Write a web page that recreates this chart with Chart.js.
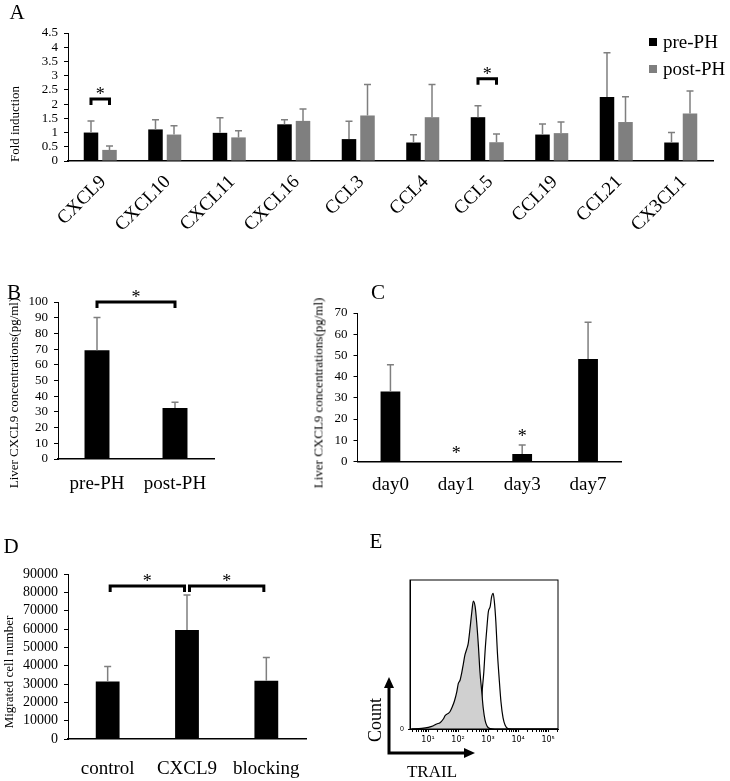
<!DOCTYPE html>
<html>
<head>
<meta charset="utf-8">
<script src="https://cdn.jsdelivr.net/npm/chart.js@4.4.1/dist/chart.umd.min.js"></script>
<style>
body{margin:0;background:#fff}
#fig{position:relative;width:730px;height:781px;background:#fff;font-family:'Liberation Serif','Times New Roman',serif;color:#000;overflow:hidden}
#fig canvas{position:absolute}
.txt{position:absolute;white-space:nowrap;line-height:1;transform:translate(-50%,-50%)}
.vert{transform:translate(-50%,-50%) rotate(-90deg)}
.letter{font-size:21px}
.ytitle{font-size:13px}
#legendA{position:absolute;left:649px;top:28px;font-size:19px;line-height:27px}
#legendA span.box{display:inline-block;width:8px;height:8px;margin-right:6px;vertical-align:middle;position:relative;top:-2px}
</style>
</head>
<body>
<div id="fig">
  <canvas id="chartA" width="730" height="245" style="left:0;top:0"></canvas>
  <canvas id="chartB" width="240" height="215" style="left:0;top:280px"></canvas>
  <canvas id="chartC" width="315" height="215" style="left:325px;top:280px"></canvas>
  <canvas id="chartD" width="330" height="226" style="left:0;top:555px"></canvas>
  <canvas id="chartE" width="205" height="221" style="left:365px;top:560px"></canvas>

  <div class="txt letter" style="left:17px;top:12px">A</div>
  <div class="txt letter" style="left:14px;top:292px">B</div>
  <div class="txt letter" style="left:378px;top:292px">C</div>
  <div class="txt letter" style="left:11px;top:546px">D</div>
  <div class="txt letter" style="left:376px;top:541px">E</div>

  <div class="txt vert ytitle" style="left:14px;top:124px">Fold induction</div>
  <div class="txt vert ytitle" style="left:13px;top:393px">Liver CXCL9 concentrations(pg/ml)</div>
  <div class="txt vert ytitle" style="left:318px;top:393px">Liver CXCL9 concentrations(pg/ml)</div>
  <div class="txt vert ytitle" style="left:8px;top:672px">Migrated cell number</div>
  <div class="txt vert" style="left:375px;top:720px;font-size:18px">Count</div>
  <div class="txt" style="left:432px;top:771px;font-size:17px">TRAIL</div>

  <div id="legendA"></div>
</div>
<script>
// A - chemokine expression, fold induction
const chemokines = ['CXCL9', 'CXCL10', 'CXCL11', 'CXCL16', 'CCL3', 'CCL4', 'CCL5', 'CCL19', 'CCL21', 'CX3CL1']
const seriesNames = ['pre-PH', 'post-PH']
const seriesColors = ['#000000', '#7f7f7f']
const prePH = [1.00, 1.11, 0.99, 1.29, 0.77, 0.65, 1.54, 0.93, 2.25, 0.65]
const prePHErr = [0.41, 0.34, 0.53, 0.16, 0.63, 0.27, 0.40, 0.37, 1.56, 0.35]
const postPH = [0.39, 0.93, 0.83, 1.41, 1.60, 1.54, 0.66, 0.98, 1.37, 1.67]
const postPHErr = [0.14, 0.31, 0.23, 0.42, 1.09, 1.15, 0.29, 0.39, 0.89, 0.79]

// B - liver CXCL9 before / after PH
const phases = ['pre-PH', 'post-PH']
const phaseConc = [69.2, 32.5]
const phaseConcErr = [21.0, 3.6]

// C - liver CXCL9 time course
const days = ['day0', 'day1', 'day3', 'day7']
const dayConc = [33.0, 0, 3.5, 48.3]
const dayConcErr = [12.6, 0, 4.3, 17.3]
const dayStars = ['', '*', '*', '']

// D - migration assay
const groups = ['control', 'CXCL9', 'blocking']
const migrated = [31300, 59500, 31800]
const migratedErr = [8200, 19100, 12600]

// E - TRAIL histogram (x = log10 intensity, y = % of max)
const ctrlLog = [0.45, 0.79, 1.01, 1.18, 1.29, 1.40, 1.51, 1.57, 1.66, 1.73, 1.81, 1.88, 1.96, 2.01, 2.07, 2.12, 2.18, 2.23, 2.29, 2.34, 2.40, 2.46, 2.51, 2.57, 2.62, 2.68, 2.73, 2.79, 2.84, 2.90, 2.96, 3.07, 3.23, 5.33]
const ctrlCount = [0, 0.4, 1.1, 2.2, 3.4, 4.2, 6.7, 8.9, 10.3, 11.6, 15.0, 18.8, 25.1, 30.6, 32.9, 37.4, 44.1, 49.7, 53.7, 57.5, 67.6, 78.7, 85.9, 82.1, 72.0, 55.3, 38.5, 25.1, 13.9, 6.0, 2.2, 0.2, 0, 0]
const trailLog = [0.45, 2.60, 2.68, 2.73, 2.77, 2.81, 2.86, 2.90, 2.96, 3.01, 3.07, 3.12, 3.17, 3.21, 3.26, 3.31, 3.37, 3.43, 3.50, 3.57, 3.66, 3.79, 5.33]
const trailCount = [0, 0, 1.5, 4.9, 13.9, 26.8, 38.5, 51.9, 67.6, 78.7, 82.1, 88.8, 91.1, 85.5, 72.0, 51.9, 34.0, 18.3, 7.4, 2.5, 0.3, 0, 0]

Chart.defaults.font.family = "'Liberation Serif', 'Times New Roman', serif"
Chart.defaults.color = '#000'

// legend for A
const legendA = document.getElementById('legendA')
seriesNames.forEach((name, i) => {
    const row = document.createElement('div')
    row.innerHTML = '<span class="box" style="background:' + seriesColors[i] + '"></span>' + name
    legendA.appendChild(row)
})

// error bars (upper half only, grey)
const errorBars = {
    id: 'errorBars',
    afterDatasetsDraw(chart) {
        const ctx = chart.ctx
        const yScale = chart.scales.y
        ctx.save()
        ctx.strokeStyle = '#7f7f7f'
        ctx.lineWidth = 1.5
        chart.data.datasets.forEach((ds, d) => {
            chart.getDatasetMeta(d).data.forEach((bar, i) => {
                const e = ds.err[i]
                if (!e) return
                const top = yScale.getPixelForValue(ds.data[i] + e)
                ctx.beginPath()
                ctx.moveTo(bar.x, bar.y)
                ctx.lineTo(bar.x, top)
                ctx.moveTo(bar.x - 3.5, top)
                ctx.lineTo(bar.x + 3.5, top)
                ctx.stroke()
            })
        })
        ctx.restore()
    }
}

// significance brackets with a star on top
const brackets = (list) => ({
    id: 'brackets',
    afterDatasetsDraw(chart) {
        const ctx = chart.ctx
        const yScale = chart.scales.y
        ctx.save()
        ctx.strokeStyle = '#000'
        ctx.fillStyle = '#000'
        ctx.lineWidth = 3
        ctx.font = "18px 'Liberation Serif', serif"
        ctx.textAlign = 'center'
        ctx.textBaseline = 'alphabetic'
        list.forEach(b => {
            const x1 = chart.getDatasetMeta(b.from[1]).data[b.from[0]].x + b.gap
            const x2 = chart.getDatasetMeta(b.to[1]).data[b.to[0]].x - b.gap
            const yt = yScale.getPixelForValue(b.y)
            ctx.beginPath()
            ctx.moveTo(x1, yt + 6)
            ctx.lineTo(x1, yt)
            ctx.lineTo(x2, yt)
            ctx.lineTo(x2, yt + 6)
            ctx.stroke()
            ctx.fillText('*', (x1 + x2) / 2, yt + 1)
        })
        ctx.restore()
    }
})

// stars above single bars (panel C)
const barStars = (stars) => ({
    id: 'barStars',
    afterDatasetsDraw(chart) {
        const ctx = chart.ctx
        const ds = chart.data.datasets[0]
        const yScale = chart.scales.y
        ctx.save()
        ctx.fillStyle = '#000'
        ctx.font = "18px 'Liberation Serif', serif"
        ctx.textAlign = 'center'
        chart.getDatasetMeta(0).data.forEach((bar, i) => {
            if (!stars[i]) return
            const top = yScale.getPixelForValue(ds.data[i] + ds.err[i])
            ctx.fillText(stars[i], bar.x, top - 3)
        })
        ctx.restore()
    }
})

const barOptions = (o) => ({
    responsive: false,
    animation: false,
    layout: { padding: { top: o.top, right: o.right, left: 0, bottom: 0 } },
    plugins: { legend: { display: false }, tooltip: { enabled: false } },
    scales: {
        x: {
            grid: { display: false },
            border: { color: '#000', width: 1.5 },
            ticks: { font: { size: o.xFont }, padding: o.xPad, labelOffset: o.xOff || 0, maxRotation: o.rot, minRotation: o.rot, autoSkip: false },
            afterFit: s => { s.height = o.xHeight }
        },
        y: {
            min: 0,
            max: o.max,
            afterBuildTicks: s => {
                const t = []
                for (let v = 0; v <= o.max + 1e-9; v += o.step) t.push({ value: Math.round(v * 100) / 100 })
                s.ticks = t
            },
            ticks: { autoSkip: false, font: { size: o.yFont }, padding: 6, callback: v => String(v) },
            grid: { drawOnChartArea: false, tickLength: 4, color: '#000' },
            border: { color: '#000', width: 1 },
            afterFit: s => { s.width = o.yWidth }
        }
    }
})

new Chart(document.getElementById('chartA'), {
    type: 'bar',
    data: {
        labels: chemokines,
        datasets: [
            { label: seriesNames[0], data: prePH, err: prePHErr, backgroundColor: seriesColors[0], categoryPercentage: 0.574, barPercentage: 0.784 },
            { label: seriesNames[1], data: postPH, err: postPHErr, backgroundColor: seriesColors[1], categoryPercentage: 0.574, barPercentage: 0.784 }
        ]
    },
    options: barOptions({ top: 33, right: 17, yWidth: 68, xHeight: 84, max: 4.5, step: 0.5, yFont: 13, xFont: 19, xPad: 2, xOff: 3, rot: 45 }),
    plugins: [errorBars, brackets([
        { from: [0, 0], to: [0, 1], y: 2.18, gap: 0 },
        { from: [6, 0], to: [6, 1], y: 2.89, gap: 0 }
    ])]
})

new Chart(document.getElementById('chartB'), {
    type: 'bar',
    data: {
        labels: phases,
        datasets: [{ data: phaseConc, err: phaseConcErr, backgroundColor: '#000', categoryPercentage: 1, barPercentage: 0.32 }]
    },
    options: barOptions({ top: 22, right: 26, yWidth: 58, xHeight: 36, max: 100, step: 10, yFont: 13, xFont: 19, xPad: 6, rot: 0 }),
    plugins: [errorBars, brackets([
        { from: [0, 0], to: [1, 0], y: 100, gap: 0 }
    ])]
})

new Chart(document.getElementById('chartC'), {
    type: 'bar',
    data: {
        labels: days,
        datasets: [{ data: dayConc, err: dayConcErr, backgroundColor: '#000', categoryPercentage: 1, barPercentage: 0.30 }]
    },
    options: barOptions({ top: 33, right: 19, yWidth: 32.5, xHeight: 33.5, max: 70, step: 10, yFont: 13, xFont: 19, xPad: 4, rot: 0 }),
    plugins: [errorBars, barStars(dayStars)]
})

new Chart(document.getElementById('chartD'), {
    type: 'bar',
    data: {
        labels: groups,
        datasets: [{ data: migrated, err: migratedErr, backgroundColor: '#000', categoryPercentage: 1, barPercentage: 0.30 }]
    },
    options: barOptions({ top: 19, right: 24, yWidth: 68, xHeight: 42, max: 90000, step: 10000, yFont: 14, xFont: 19, xPad: 11, rot: 0 }),
    plugins: [errorBars, brackets([
        { from: [0, 0], to: [1, 0], y: 83500, gap: 2.5 },
        { from: [1, 0], to: [2, 0], y: 83500, gap: 2.5 }
    ])]
})

// E - flow histogram
const sup = ['\u2070', '\u00b9', '\u00b2', '\u00b3', '\u2074', '\u2075']
const logTicks = []
for (let d = 0; d <= 5; d++) {
    for (let k = 1; k <= 9; k++) {
        const v = d + Math.log10(k)
        if (v >= 0.4 && v <= 5.33) logTicks.push({ value: v })
    }
}

const frameAndArrows = {
    id: 'frameAndArrows',
    afterDraw(chart) {
        const ctx = chart.ctx
        const a = chart.chartArea
        ctx.save()
        ctx.strokeStyle = '#000'
        ctx.lineWidth = 1
        ctx.strokeRect(a.left, a.top, a.right - a.left, a.bottom - a.top)
        // Count / TRAIL arrows
        const cx = a.left - 21, cy = a.bottom + 24
        ctx.lineWidth = 3
        ctx.beginPath()
        ctx.moveTo(cx, cy)
        ctx.lineTo(cx, a.bottom - 42)
        ctx.moveTo(cx - 1.5, cy)
        ctx.lineTo(a.left + 55, cy)
        ctx.stroke()
        ctx.fillStyle = '#000'
        ctx.beginPath()
        ctx.moveTo(cx, a.bottom - 52)
        ctx.lineTo(cx - 5, a.bottom - 41)
        ctx.lineTo(cx + 5, a.bottom - 41)
        ctx.closePath()
        ctx.fill()
        ctx.beginPath()
        ctx.moveTo(a.left + 65, cy)
        ctx.lineTo(a.left + 54, cy - 5)
        ctx.lineTo(a.left + 54, cy + 5)
        ctx.closePath()
        ctx.fill()
        ctx.restore()
    }
}

new Chart(document.getElementById('chartE'), {
    type: 'line',
    data: {
        datasets: [
            {
                label: 'control',
                data: ctrlLog.map((x, i) => ({ x: x, y: ctrlCount[i] })),
                fill: 'origin',
                backgroundColor: '#d0d0d0',
                borderColor: '#000',
                borderWidth: 1.2,
                pointRadius: 0,
                cubicInterpolationMode: 'monotone',
                order: 0
            },
            {
                label: 'TRAIL',
                data: trailLog.map((x, i) => ({ x: x, y: trailCount[i] })),
                fill: false,
                borderColor: '#000',
                borderWidth: 1.2,
                pointRadius: 0,
                cubicInterpolationMode: 'monotone',
                order: 1
            }
        ]
    },
    options: {
        responsive: false,
        animation: false,
        layout: { padding: { top: 20, right: 12, left: 0, bottom: 0 } },
        plugins: { legend: { display: false }, tooltip: { enabled: false } },
        scales: {
            x: {
                type: 'linear',
                min: 0.4,
                max: 5.33,
                afterBuildTicks: s => { s.ticks = logTicks.slice() },
                ticks: {
                    autoSkip: false,
                    maxRotation: 0,
                    padding: 3,
                    font: { family: "'DejaVu Sans', Arial, sans-serif", size: 8 },
                    callback: v => Number.isInteger(v) ? '10' + sup[v] : ''
                },
                grid: { drawOnChartArea: false, tickLength: 3, color: '#000' },
                border: { color: '#000', width: 1 },
                afterFit: s => { s.height = 52 }
            },
            y: {
                min: 0,
                max: 100,
                afterBuildTicks: s => { s.ticks = [{ value: 0 }] },
                ticks: { padding: 4, font: { family: "'Liberation Sans', Arial, sans-serif", size: 7 } },
                grid: { drawOnChartArea: false, tickLength: 2, color: '#000' },
                border: { color: '#000', width: 1 },
                afterFit: s => { s.width = 45 }
            }
        }
    },
    plugins: [frameAndArrows]
})
</script>
</body>
</html>
